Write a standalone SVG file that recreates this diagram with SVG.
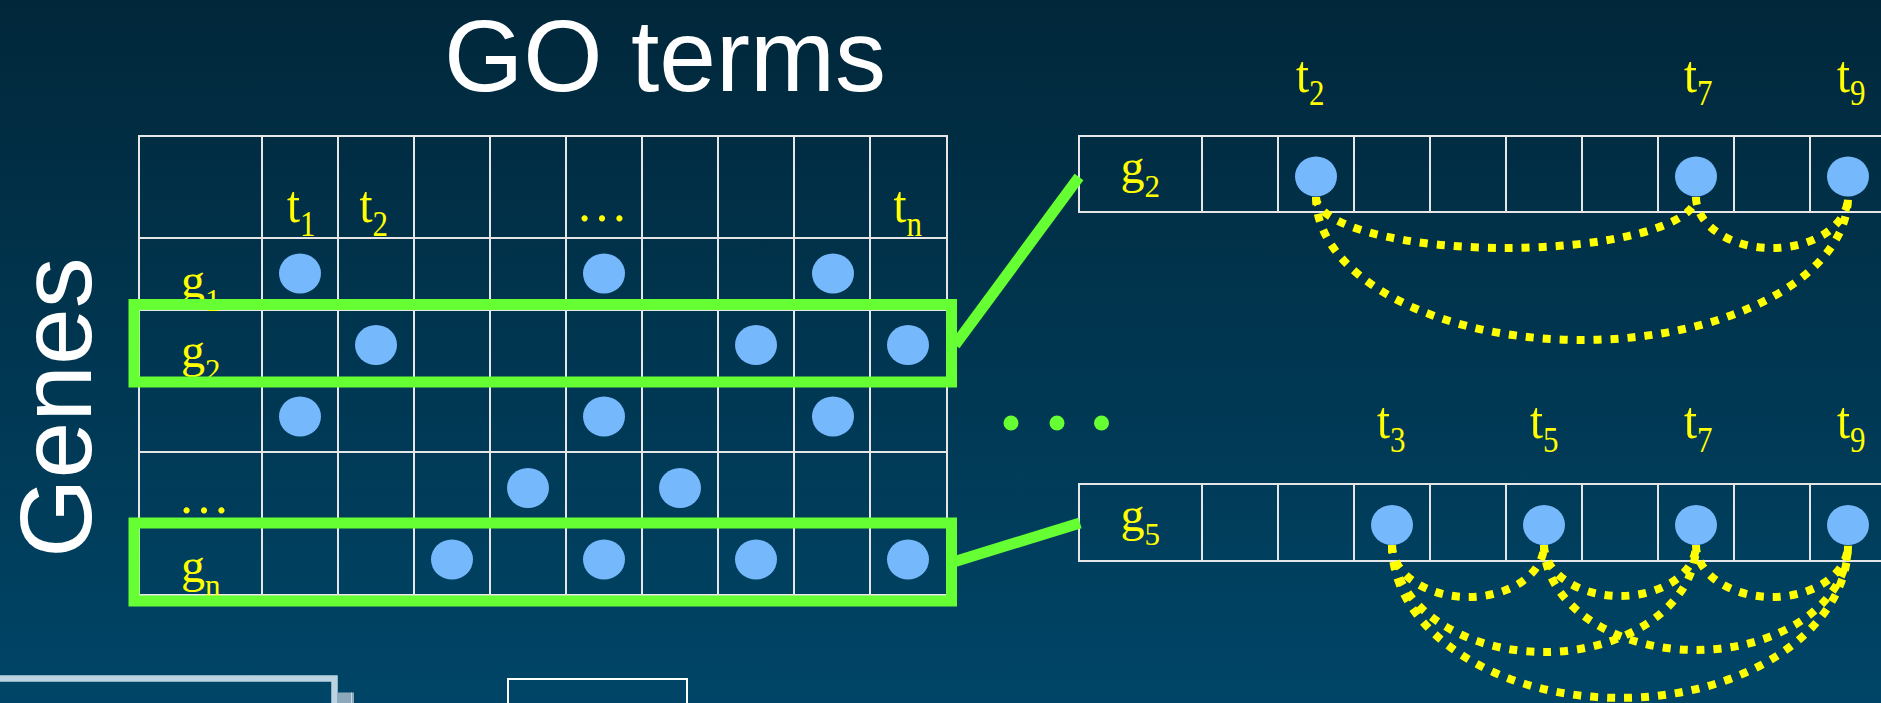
<svg xmlns="http://www.w3.org/2000/svg" width="1881" height="703" viewBox="0 0 1881 703">
<defs>
<linearGradient id="bg" x1="0" y1="0" x2="0" y2="1">
<stop offset="0" stop-color="#01273a"/>
<stop offset="1" stop-color="#004567"/>
</linearGradient>
<style>
.grid{stroke:#e6e6e6;stroke-width:2;fill:none}
.dot{fill:#76b8fc}
.lab{font-family:"Liberation Serif","Times New Roman",serif;font-size:48px;fill:#ffff00}
.tl{font-family:"Liberation Serif","Times New Roman",serif;font-size:47px;fill:#ffff00}
.sub{font-size:31px}
.ell{font-family:"Liberation Serif","Times New Roman",serif;font-size:52px;fill:#ffff00}
.big{font-family:"Liberation Sans",Arial,sans-serif;font-size:102px;fill:#ffffff}
.hl{fill:none;stroke:#66ff33;stroke-width:11}
.gline{stroke:#66ff33;stroke-width:11;fill:none}
.arc{fill:none;stroke:#ffff00;stroke-width:8;stroke-dasharray:8 9}
.gdot{fill:#66ff33}
</style>
</defs>
<rect x="0" y="0" width="1881" height="703" fill="url(#bg)"/>

<g id="title"><text class="big" x="444" y="91">GO terms</text></g>
<g id="genes-label"><text class="big" text-anchor="middle" transform="translate(90.5,407.5) rotate(-90)">Genes</text></g>

<g id="main-grid">
<path class="grid" d="M139 136V595M262 136V595M338 136V595M414 136V595M490 136V595M566 136V595M642 136V595M718 136V595M794 136V595M870 136V595M947 136V595M138 136H948M138 238H948M138 310H948M138 381H948M138 452H948M138 524H948M138 595H948"/>
<ellipse class="dot" cx="300" cy="273.5" rx="21" ry="20"/>
<ellipse class="dot" cx="604" cy="273.5" rx="21" ry="20"/>
<ellipse class="dot" cx="833" cy="273.5" rx="21" ry="20"/>
<ellipse class="dot" cx="376" cy="345" rx="21" ry="20"/>
<ellipse class="dot" cx="756" cy="345" rx="21" ry="20"/>
<ellipse class="dot" cx="908" cy="345" rx="21" ry="20"/>
<ellipse class="dot" cx="300" cy="416.5" rx="21" ry="20"/>
<ellipse class="dot" cx="604" cy="416.5" rx="21" ry="20"/>
<ellipse class="dot" cx="833" cy="416.5" rx="21" ry="20"/>
<ellipse class="dot" cx="528" cy="488" rx="21" ry="20"/>
<ellipse class="dot" cx="680" cy="488" rx="21" ry="20"/>
<ellipse class="dot" cx="452" cy="559.5" rx="21" ry="20"/>
<ellipse class="dot" cx="604" cy="559.5" rx="21" ry="20"/>
<ellipse class="dot" cx="756" cy="559.5" rx="21" ry="20"/>
<ellipse class="dot" cx="908" cy="559.5" rx="21" ry="20"/>
<text class="tl" transform="translate(287,222) scale(1,1.13)">t<tspan class="sub" dy="12.4">1</tspan></text>
<text class="tl" transform="translate(359.5,222) scale(1,1.13)">t<tspan class="sub" dy="12.4">2</tspan></text>
<text class="ell" x="576" y="221">…</text>
<text class="tl" transform="translate(893.5,222) scale(1,1.13)">t<tspan class="sub" dy="12.4">n</tspan></text>
<text class="lab" x="181" y="297">g<tspan class="sub" dy="14">1</tspan></text>
<text class="lab" x="181" y="367">g<tspan class="sub" dy="14">2</tspan></text>
<text class="ell" x="178" y="512.5">…</text>
<text class="lab" x="181" y="581.5">g<tspan class="sub" dy="14">n</tspan></text>
</g>

<g id="highlight-g2"><rect class="hl" x="134" y="304.5" width="817.5" height="77.5"/></g>
<g id="highlight-gn"><rect class="hl" x="134" y="523" width="817.5" height="78"/></g>

<g id="row-g2">
<path class="grid" d="M1079 136V212M1202 136V212M1278 136V212M1354 136V212M1430 136V212M1506 136V212M1582 136V212M1658 136V212M1734 136V212M1810 136V212M1078 136H1885M1078 212H1885"/>
<ellipse class="dot" cx="1316" cy="176.5" rx="21" ry="20"/>
<ellipse class="dot" cx="1696" cy="176.5" rx="21" ry="20"/>
<ellipse class="dot" cx="1848" cy="176.5" rx="21" ry="20"/>
<text class="lab" x="1120.5" y="182.5">g<tspan class="sub" dy="14">2</tspan></text>
<text class="tl" transform="translate(1296,92) scale(1,1.13)">t<tspan class="sub" dy="11.5">2</tspan></text>
<text class="tl" transform="translate(1684,92) scale(1,1.13)">t<tspan class="sub" dy="11.5">7</tspan></text>
<text class="tl" transform="translate(1837,92) scale(1,1.13)">t<tspan class="sub" dy="11.5">9</tspan></text>
</g>

<g id="row-g5">
<path class="grid" d="M1079 484V561M1202 484V561M1278 484V561M1354 484V561M1430 484V561M1506 484V561M1582 484V561M1658 484V561M1734 484V561M1810 484V561M1078 484H1885M1078 561H1885"/>
<ellipse class="dot" cx="1392" cy="525" rx="21" ry="20"/>
<ellipse class="dot" cx="1544" cy="525" rx="21" ry="20"/>
<ellipse class="dot" cx="1696" cy="525" rx="21" ry="20"/>
<ellipse class="dot" cx="1848" cy="525" rx="21" ry="20"/>
<text class="lab" x="1120.5" y="530.5">g<tspan class="sub" dy="14">5</tspan></text>
<text class="tl" transform="translate(1377,438) scale(1,1.13)">t<tspan class="sub" dy="12.4">3</tspan></text>
<text class="tl" transform="translate(1530,438) scale(1,1.13)">t<tspan class="sub" dy="12.4">5</tspan></text>
<text class="tl" transform="translate(1684,438) scale(1,1.13)">t<tspan class="sub" dy="12.4">7</tspan></text>
<text class="tl" transform="translate(1837,438) scale(1,1.13)">t<tspan class="sub" dy="12.4">9</tspan></text>
</g>

<g id="more-rows">
<circle class="gdot" cx="1011" cy="423" r="7.5"/>
<circle class="gdot" cx="1057" cy="423" r="7.5"/>
<circle class="gdot" cx="1101.5" cy="423" r="7.5"/>
</g>

<g id="connectors">
<line class="gline" x1="955" y1="345" x2="1079" y2="177"/>
<line class="gline" x1="955" y1="561.5" x2="1080" y2="523"/>
<path class="arc" d="M1316 197A190 51 0 0 0 1696 197"/>
<path class="arc" d="M1696 197A76 51 0 0 0 1848 197"/>
<path class="arc" d="M1316 197A266 143 0 0 0 1848 197"/>
<path class="arc" d="M1392 545A76 52 0 0 0 1544 545"/>
<path class="arc" d="M1544 545A76 51 0 0 0 1696 545"/>
<path class="arc" d="M1696 545A76 52 0 0 0 1848 545"/>
<path class="arc" d="M1392 545A152 107 0 0 0 1696 545"/>
<path class="arc" d="M1544 545A152 105 0 0 0 1848 545"/>
<path class="arc" d="M1392 545A228 153 0 0 0 1848 545"/>
</g>

<g id="bottom-partial">
<rect x="-10" y="678.5" width="344.5" height="40" fill="none" stroke="#bcd4e2" stroke-width="6.5"/>
<rect x="337.5" y="692.5" width="16.5" height="12" fill="#8ea8bb"/>
<line x1="351.5" y1="692.5" x2="351.5" y2="703" stroke="#c8d8e4" stroke-width="1"/>
<rect x="508" y="679" width="179" height="40" fill="none" stroke="#ffffff" stroke-width="2"/>
</g>
</svg>
